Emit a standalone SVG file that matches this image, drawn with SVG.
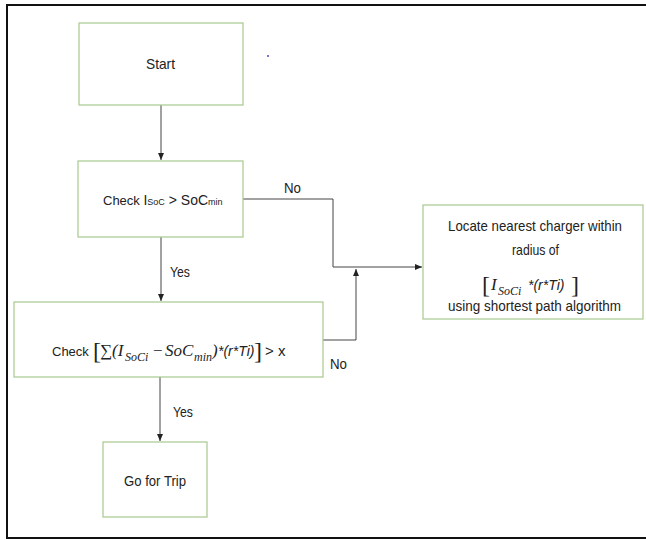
<svg xmlns="http://www.w3.org/2000/svg" width="646" height="540" viewBox="0 0 646 540">
<style>
.box{fill:#fff;stroke:#a8c890;stroke-width:1.2}
.t{font-family:"Liberation Sans",Arial,sans-serif;font-size:15px;fill:#222}
.m{font-family:"Liberation Serif","Times New Roman",serif;font-style:italic;font-size:17px}
.s{font-family:"Liberation Serif","Times New Roman",serif;font-style:italic;font-size:12px}
.b{font-family:"Liberation Serif","Times New Roman",serif;font-size:24px}
.i{font-style:italic;font-size:14px}
.k{font-size:13px}
.c{fill:none;stroke:#444;stroke-width:1}
</style>
<defs>
<marker id="ah" markerWidth="8" markerHeight="8" refX="7" refY="4" orient="auto" markerUnits="userSpaceOnUse">
<path d="M0,1 L7,4 L0,7 Z" fill="#222"/>
</marker>
</defs>
<rect x="0" y="0" width="646" height="540" fill="#fff"/>
<path d="M646,5 H7 V538 H646" fill="none" stroke="#111" stroke-width="2"/>
<circle cx="268" cy="56" r="0.9" fill="#3333cc"/>

<g id="connectors">
<line class="c" x1="161" y1="105" x2="161" y2="160" marker-end="url(#ah)"/>
<line class="c" x1="161" y1="237" x2="161" y2="301" marker-end="url(#ah)"/>
<line class="c" x1="160" y1="377" x2="160" y2="441" marker-end="url(#ah)"/>
<polyline class="c" points="243,199 333,199 333,267 422,267" marker-end="url(#ah)"/>
<polyline class="c" points="323,340 356,340 356,269" marker-end="url(#ah)"/>
<text class="t" x="284" y="193" textLength="17" lengthAdjust="spacingAndGlyphs">No</text>
<text class="t" x="330" y="369" textLength="17" lengthAdjust="spacingAndGlyphs">No</text>
<text class="t" x="170" y="277" textLength="20" lengthAdjust="spacingAndGlyphs">Yes</text>
<text class="t" x="173" y="417" textLength="20" lengthAdjust="spacingAndGlyphs">Yes</text>
</g>

<g id="start">
<rect class="box" x="79" y="23" width="164" height="82"/>
<text class="t" x="146" y="69" textLength="29" lengthAdjust="spacingAndGlyphs">Start</text>
</g>

<g id="check1">
<rect class="box" x="78" y="161" width="165" height="76"/>
<text class="t" x="103" y="205"><tspan class="k">Check </tspan><tspan font-size="14">I</tspan><tspan font-size="9">SoC</tspan><tspan font-size="14"> &gt; SoC</tspan><tspan font-size="9">min</tspan></text>
</g>

<g id="check2">
<rect class="box" x="14" y="302" width="309" height="75"/>
<text class="t" x="52" y="356"><tspan class="k">Check </tspan><tspan class="b" x="93" y="359">[</tspan><tspan class="m" x="100" y="356">∑(I</tspan><tspan class="s" x="125" y="361">SoCi</tspan><tspan class="m" x="152" y="356">−</tspan><tspan class="m" x="165" y="356">SoC</tspan><tspan class="s" x="194" y="361">min</tspan><tspan class="m" x="212" y="356">)</tspan><tspan class="i" x="218" y="356">*(r*Ti)</tspan><tspan class="b" x="254" y="359">]</tspan><tspan x="265" y="356">&gt; x</tspan></text>
</g>

<g id="trip">
<rect class="box" x="103" y="442" width="104" height="75"/>
<text class="t" x="124" y="486" textLength="62" lengthAdjust="spacingAndGlyphs">Go for Trip</text>
</g>

<g id="locate">
<rect class="box" x="423" y="205" width="220" height="114"/>
<text class="t" x="448" y="231" textLength="174" lengthAdjust="spacingAndGlyphs">Locate nearest charger within</text>
<text class="t" x="512" y="255" textLength="47" lengthAdjust="spacingAndGlyphs">radius of</text>
<text class="t" x="482" y="293"><tspan class="b">[</tspan><tspan class="m" x="491" y="290">I</tspan><tspan class="s" x="498" y="295">SoCi</tspan><tspan class="i" x="528" y="290">*(r*Ti)</tspan><tspan class="b" x="571" y="293">]</tspan></text>
<text class="t" x="448" y="311" textLength="173" lengthAdjust="spacingAndGlyphs">using shortest path algorithm</text>
</g>
</svg>
